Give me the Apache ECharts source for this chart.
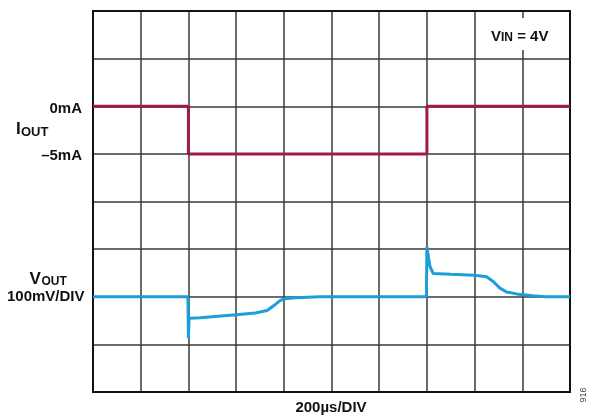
<!DOCTYPE html>
<html>
<head>
<meta charset="utf-8">
<script src="https://cdn.jsdelivr.net/npm/echarts@6/dist/echarts.min.js"></script>
<style>
  html, body { margin: 0; padding: 0; background: #fff; }
  #chart { width: 597px; height: 417px; }
</style>
</head>
<body>
<div id="chart"></div>
<script>
// time in µs, 200µs/DIV
const ioutTime = [0, 400, 400, 1400, 1400, 2000]
const ioutMa = [0, 0, -5, -5, 0, 0]

// Vout deviation in mV, 100mV/DIV
const voutTime = [0, 398, 400, 403, 450, 500, 600, 680, 730, 760, 784, 805, 850, 950, 1000,
  1398, 1400, 1412, 1426, 1500, 1600, 1650, 1678, 1706, 1734, 1776, 1844, 1900, 2000]
const voutMv = [0, 0, -87, -45, -44, -42, -38, -34, -29, -18, -8, -4, -2, 0, 0,
  0, 105, 65, 49, 47, 45, 42, 32, 18, 10, 6, 2, 0, 0]

const chart = echarts.init(document.getElementById('chart'))
const font = '"Liberation Sans", Arial, sans-serif'

// plain text label helper
function label(text, x, y, size, align) {
  return {
    type: 'text', x: x, y: y, z: 10,
    style: { text: text, font: 'bold ' + size + 'px ' + font, fill: '#111', align: align || 'left', verticalAlign: 'middle' }
  }
}

const option = {
  animation: false,
  grid: { left: 93, top: 11, width: 477, height: 381, show: true, borderColor: '#111', borderWidth: 2, z: 3 },
  xAxis: {
    type: 'value', min: 0, max: 2000, interval: 200,
    axisLine: { show: false }, axisTick: { show: false }, axisLabel: { show: false },
    splitLine: { show: true, lineStyle: { color: '#3a3a3a', width: 1.5 } }
  },
  yAxis: [
    {
      // current axis: 5mA/DIV, 0mA sits 6 divisions up
      type: 'value', min: -30, max: 10, interval: 5,
      axisLine: { show: false }, axisTick: { show: false }, axisLabel: { show: false },
      splitLine: { show: true, lineStyle: { color: '#3a3a3a', width: 1.5 } }
    },
    {
      // voltage axis: 100mV/DIV, baseline 2 divisions up
      type: 'value', min: -200, max: 600, interval: 100,
      axisLine: { show: false }, axisTick: { show: false }, axisLabel: { show: false },
      splitLine: { show: false }
    }
  ],
  series: [
    {
      name: 'IOUT', type: 'line', yAxisIndex: 0, showSymbol: false, z: 4,
      lineStyle: { color: '#a01a4a', width: 3 },
      data: ioutTime.map((t, i) => [t, ioutMa[i]])
    },
    {
      name: 'VOUT', type: 'line', yAxisIndex: 1, showSymbol: false, z: 4,
      lineStyle: { color: '#1a9fda', width: 3 },
      data: voutTime.map((t, i) => [t, voutMv[i]])
    }
  ],
  graphic: [
    label('0mA', 82, 108.5, 15, 'right'),
    label('–5mA', 82, 155.5, 15, 'right'),
    label('I', 16, 129.5, 17),
    label('OUT', 21, 132.5, 13),
    label('V', 29.5, 279.5, 17),
    label('OUT', 41.5, 282, 12),
    label('100mV/DIV', 7, 297, 15),
    label('200µs/DIV', 331, 408, 15, 'center'),
    {
      type: 'text', left: 489, top: 18, z: 10,
      style: {
        text: '{b|V}{s|IN}{b| = 4V}', backgroundColor: '#fff', padding: [8, 3, 6, 2],
        rich: {
          b: { font: 'bold 15px ' + font, fill: '#111', verticalAlign: 'bottom' },
          s: { font: 'bold 12px ' + font, fill: '#111', padding: [6, 0, 0, 0], verticalAlign: 'bottom' }
        }
      }
    },
    {
      type: 'text', x: 584, y: 395, rotation: Math.PI / 2, z: 10,
      style: { text: '916', font: '9px ' + font, fill: '#444', align: 'center', verticalAlign: 'middle' }
    }
  ]
}

chart.setOption(option)
window.addEventListener('resize', () => chart.resize())
</script>
</body>
</html>
